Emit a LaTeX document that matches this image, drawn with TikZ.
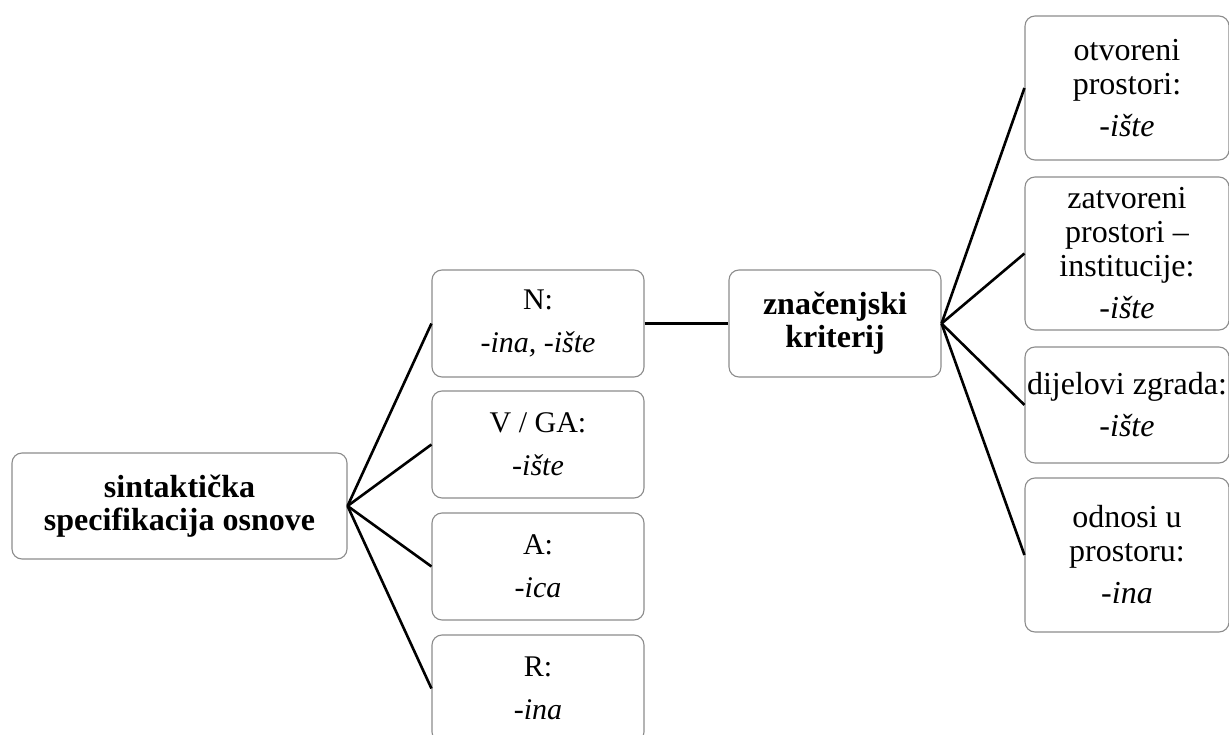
\documentclass[tikz,border=0pt]{standalone}
\usepackage{fontspec}
\setmainfont{Liberation Serif}
\begin{document}
\begin{tikzpicture}[x=1pt,y=-1pt,
  box/.style={draw=black!45, line width=1.1pt, rounded corners=10pt, fill=white,
    inner sep=0pt, align=center},
  lbox/.style={box, minimum width=212pt, minimum height=107pt, font=\fontsize{30}{33}\selectfont},
  rbox/.style={box, minimum width=204pt, font=\fontsize{32}{34}\selectfont},
  bbox/.style={box, font=\fontsize{32}{33}\selectfont\bfseries},
  conn/.style={line width=2.6pt, black}]
\useasboundingbox (0,0) rectangle (1229,735);
\clip (0,0) rectangle (1229,735);
% left level
\node[bbox, minimum width=335pt, minimum height=106pt]
  (root) at (179.5,506) {sintaktička\\specifikacija osnove};
\node[lbox] (n) at (538,323.5) {N:\\[10pt]\textit{-ina, -ište}};
\node[lbox] (v) at (538,444.5) {V / GA:\\[10pt]\textit{-ište}};
\node[lbox] (a) at (538,566.5) {A:\\[10pt]\textit{-ica}};
\node[lbox] (r) at (538,688.5) {R:\\[10pt]\textit{-ina}};
% middle
\node[bbox, minimum width=212pt, minimum height=107pt]
  (z) at (835,323.5) {značenjski\\kriterij};
% right level
\node[rbox, minimum height=144pt] (o1) at (1127,88) {otvoreni\\prostori:\\[8pt]\textit{-ište}};
\node[rbox, minimum height=153pt] (o2) at (1127,253.5) {zatvoreni\\prostori –\\institucije:\\[8pt]\textit{-ište}};
\node[rbox, minimum height=116pt] (o3) at (1127,405) {dijelovi zgrada:\\[8pt]\textit{-ište}};
\node[rbox, minimum height=154pt] (o4) at (1127,555) {odnosi u\\prostoru:\\[8pt]\textit{-ina}};
% connectors
\draw[conn] (root.east) -- (n.west);
\draw[conn] (root.east) -- (v.west);
\draw[conn] (root.east) -- (a.west);
\draw[conn] (root.east) -- (r.west);
\draw[conn] (n.east) -- (z.west);
\draw[conn] (z.east) -- (o1.west);
\draw[conn] (z.east) -- (o2.west);
\draw[conn] (z.east) -- (o3.west);
\draw[conn] (z.east) -- (o4.west);
\end{tikzpicture}
\end{document}
